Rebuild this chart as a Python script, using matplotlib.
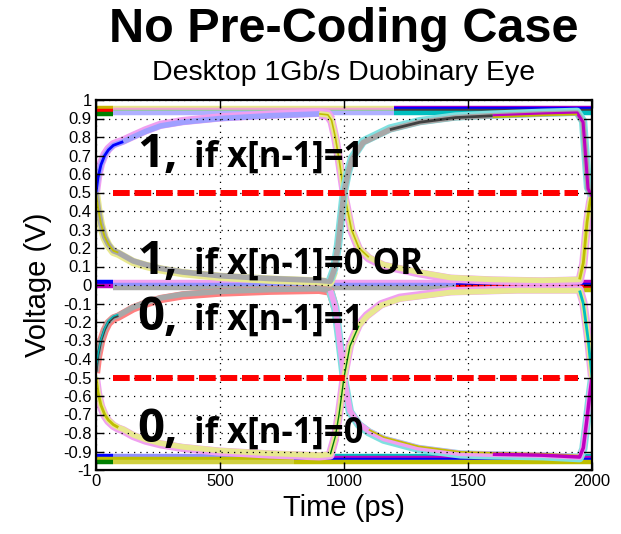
import numpy as np
import matplotlib
matplotlib.use("Agg")
import matplotlib.pyplot as plt

# ---------------- data ----------------
# Upper eye: starts high-going, holds near +0.93, falls at the 1000 ps crossing
t_up_fall = [0, 8, 20, 35, 50, 70, 90, 110, 150, 200, 260, 350, 500, 700, 900, 935, 950,
             965, 980, 1000, 1015, 1030, 1060, 1100, 1160, 1300, 1430, 1600, 1800, 1950,
             1965, 1980, 1992, 2000]
v_up_fall = [0.50, 0.58, 0.65, 0.70, 0.73, 0.755, 0.765, 0.775, 0.80, 0.83, 0.86, 0.88,
             0.90, 0.915, 0.925, 0.92, 0.89, 0.80, 0.68, 0.50, 0.40, 0.30, 0.20, 0.15,
             0.11, 0.07, 0.04, 0.03, 0.025, 0.03, 0.12, 0.34, 0.45, 0.50]

# Upper eye: starts low-going, sits near 0, rises at the 1000 ps crossing
t_up_rise = [0, 8, 20, 35, 50, 70, 90, 110, 150, 200, 260, 350, 500, 700, 900, 944, 960,
             976, 990, 1000, 1015, 1032, 1077, 1185, 1306, 1450, 1600, 1800, 1940, 1964,
             1984, 2000]
v_up_rise = [0.50, 0.42, 0.33, 0.26, 0.22, 0.185, 0.175, 0.16, 0.13, 0.11, 0.09, 0.07,
             0.05, 0.035, 0.025, 0.02, 0.08, 0.21, 0.38, 0.50, 0.60, 0.68, 0.77, 0.84,
             0.88, 0.905, 0.915, 0.925, 0.93, 0.88, 0.52, 0.48]

# Lower eye: rises from -0.5 towards 0, falls at the 1000 ps crossing
t_lo_rise = [0, 8, 20, 35, 50, 70, 90, 110, 150, 200, 260, 350, 500, 700, 900, 945, 965,
             980, 1000, 1024, 1060, 1100, 1160, 1300, 1470, 1600, 1800, 1950, 1965, 1980,
             1992, 2000]
v_lo_rise = [-0.47, -0.38, -0.30, -0.24, -0.20, -0.175, -0.165, -0.15, -0.12, -0.095,
             -0.07, -0.05, -0.035, -0.025, -0.02, -0.03, -0.12, -0.28, -0.50, -0.68,
             -0.75, -0.79, -0.83, -0.88, -0.91, -0.915, -0.92, -0.93, -0.88, -0.72,
             -0.58, -0.50]

# Lower eye: falls from -0.5 towards -0.93, rises at the 1000 ps crossing
t_lo_fall = [0, 8, 20, 35, 50, 70, 90, 110, 150, 200, 260, 350, 500, 700, 900, 945, 965,
             980, 1000, 1024, 1060, 1092, 1150, 1225, 1430, 1700, 1950, 1965, 1985, 2000]
v_lo_fall = [-0.50, -0.58, -0.65, -0.70, -0.73, -0.755, -0.77, -0.78, -0.81, -0.835,
             -0.855, -0.875, -0.895, -0.91, -0.92, -0.915, -0.82, -0.70, -0.50, -0.33,
             -0.22, -0.17, -0.11, -0.075, -0.04, -0.03, -0.03, -0.10, -0.30, -0.50]

# Steady (no-transition) traces: start time, end time, level, colour
flat_t0 = [0, 0, 0, 70, 70, 70, 70, 1200, 1200, 1200, 1200,
           0, 0, 70, 70, 70, 1450, 1450, 1450, 1450,
           0, 0, 0, 70, 70, 70, 800, 800, 800, 800]
flat_t1 = [70, 70, 70, 1200, 1200, 1200, 1200, 2000, 2000, 2000, 2000,
           70, 70, 1450, 1450, 1450, 2000, 2000, 2000, 2000,
           70, 70, 70, 800, 800, 800, 2000, 2000, 2000, 2000]
flat_v = [0.955, 0.94, 0.925, 0.958, 0.948, 0.937, 0.928, 0.958, 0.95, 0.94, 0.932,
          0.015, -0.005, 0.015, 0.0, -0.015, 0.015, 0.0, -0.012, -0.025,
          -0.925, -0.94, -0.955, -0.925, -0.94, -0.955, -0.925, -0.935, -0.945, -0.955]
flat_c = ["#c8b400", "#ff0000", "#008000", "#e6e68c", "#f0a0d0", "#90d090", "#b0b0ff",
          "#bf00bf", "#0000ff", "#404040", "#00bfbf",
          "#0000ff", "#bf00bf", "#f0a0f0", "#9090ff", "#a8a8a8",
          "#bf00bf", "#0000ff", "#ff0000", "#bfbf00",
          "#0000ff", "#bfbf00", "#008000", "#9090ff", "#bfbf00", "#d0d040",
          "#00bfbf", "#bf00bf", "#0000ff", "#bfbf00"]

thresholds = [0.5, -0.5]
thr_t = [70, 1945]

y_ticks = [1, 0.9, 0.8, 0.7, 0.6, 0.5, 0.4, 0.3, 0.2, 0.1, 0, -0.1, -0.2, -0.3, -0.4,
           -0.5, -0.6, -0.7, -0.8, -0.9, -1]
y_tick_labels = ["1", "0.9", "0.8", "0.7", "0.6", "0.5", "0.4", "0.3", "0.2", "0.1", "0",
                 "-0.1", "-0.2", "-0.3", "-0.4", "-0.5", "-0.6", "-0.7", "-0.8", "-0.9", "-1"]
x_ticks = [0, 500, 1000, 1500, 2000]

notes_big = ["1,", "1,", "0,", "0,"]
notes_small = ["if x[n-1]=1", "if x[n-1]=0 OR", "if x[n-1]=1", "if x[n-1]=0"]
notes_y = [0.64, 0.06, -0.243, -0.85]

# ---------------- drawing ----------------
fig = plt.figure(figsize=(6.21, 5.34), dpi=100)
ax = fig.add_axes([96 / 621, 1 - 470 / 534, 496 / 621, 370 / 534])

BLUE, GREEN, RED = "#0000ff", "#008000", "#ff0000"
CYAN, MAG, OLIVE, DGRAY = "#00bfbf", "#bf00bf", "#bfbf00", "#404040"
LPINK, LYEL, LGRAY, LAV, LCYAN = "#f0a0f0", "#e8e890", "#a8a8a8", "#a0a0ff", "#80e0e0"


def draw(t, v, t_from, t_to, color, lw, dv=0.0, z=2):
    t = np.asarray(t, float)
    v = np.asarray(v, float)
    m = (t >= t_from) & (t <= t_to)
    ax.plot(t[m], v[m] + dv, color=color, lw=lw, solid_capstyle="butt", zorder=z)


# flat traces
for a, b, lv, c in zip(flat_t0, flat_t1, flat_v, flat_c):
    ax.plot([a, b], [lv, lv], color=c, lw=3.2, solid_capstyle="butt", zorder=2)

# upper eye, falling trace
draw(t_up_fall, v_up_fall, 0, 950, LPINK, 6, 0.006)
draw(t_up_fall, v_up_fall, 0, 950, LAV, 4)
draw(t_up_fall, v_up_fall, 0, 110, BLUE, 2)
draw(t_up_fall, v_up_fall, 900, 2000, LPINK, 6, -0.006)
draw(t_up_fall, v_up_fall, 900, 2000, LYEL, 4)
draw(t_up_fall, v_up_fall, 900, 1100, OLIVE, 1.2)
draw(t_up_fall, v_up_fall, 1940, 2000, OLIVE, 2)

# upper eye, rising trace
draw(t_up_rise, v_up_rise, 0, 960, LYEL, 6, -0.006)
draw(t_up_rise, v_up_rise, 0, 960, LGRAY, 4)
draw(t_up_rise, v_up_rise, 0, 90, OLIVE, 1.3)
draw(t_up_rise, v_up_rise, 940, 2000, LCYAN, 6, 0.006)
draw(t_up_rise, v_up_rise, 940, 2000, LGRAY, 4)
draw(t_up_rise, v_up_rise, 1100, 1600, DGRAY, 2)
draw(t_up_rise, v_up_rise, 1600, 2000, MAG, 2.2)
draw(t_up_rise, v_up_rise, 1600, 1960, OLIVE, 1.2, -0.008)

# lower eye, rising trace
draw(t_lo_rise, v_lo_rise, 0, 965, "#ff8080", 6, -0.006)
draw(t_lo_rise, v_lo_rise, 0, 965, LGRAY, 4)
draw(t_lo_rise, v_lo_rise, 0, 90, DGRAY, 2)
draw(t_lo_rise, v_lo_rise, 0, 90, CYAN, 1, 0.006)
draw(t_lo_rise, v_lo_rise, 945, 2000, LCYAN, 6, -0.006)
draw(t_lo_rise, v_lo_rise, 945, 2000, LPINK, 4)
draw(t_lo_rise, v_lo_rise, 1100, 1950, OLIVE, 1.2, 0.008)
draw(t_lo_rise, v_lo_rise, 1500, 2000, MAG, 2.5)

# lower eye, falling trace
draw(t_lo_fall, v_lo_fall, 0, 965, LPINK, 6, -0.006)
draw(t_lo_fall, v_lo_fall, 0, 965, LYEL, 4)
draw(t_lo_fall, v_lo_fall, 0, 100, OLIVE, 2)
draw(t_lo_fall, v_lo_fall, 945, 2000, LPINK, 6, 0.006)
draw(t_lo_fall, v_lo_fall, 945, 2000, LYEL, 4)
draw(t_lo_fall, v_lo_fall, 945, 1060, GREEN, 1)
draw(t_lo_fall, v_lo_fall, 1940, 2000, CYAN, 2)

# decision thresholds
for th in thresholds:
    ax.plot(thr_t, [th, th], color=RED, lw=4.3, ls=(0, (2.8, 0.8)),
            solid_capstyle="butt", dash_capstyle="butt", zorder=3)

ax.set_xlim(0, 2000)
ax.set_ylim(-1, 1)
ax.set_xticks(x_ticks)
ax.set_yticks(y_ticks)
ax.set_yticklabels(y_tick_labels)
ax.grid(True, color="black", ls=(0, (1, 4)), lw=0.9)
ax.set_axisbelow(False)
ax.tick_params(direction="in", top=True, right=True, length=6, width=1,
               labelsize=12, pad=3)
for lab in ax.get_xticklabels() + ax.get_yticklabels():
    lab.set_fontfamily("Liberation Sans")
for s in ax.spines.values():
    s.set_linewidth(1.6)

ax.set_xlabel("Time (ps)", fontsize=21, fontfamily="Liberation Sans")
ax.set_ylabel("Voltage (V)", fontsize=21, fontfamily="Liberation Sans")
ax.xaxis.set_label_coords(0.5, -0.065)
ax.yaxis.set_label_coords(-0.089, 0.5)

for big, small, yy in zip(notes_big, notes_small, notes_y):
    ax.text(165, yy, big, fontsize=34, fontweight="bold", fontfamily="Open Sans",
            va="baseline", ha="left", zorder=5)
    ax.text(395, yy, small, fontsize=25, fontweight="bold", fontfamily="Open Sans",
            va="baseline", ha="left", zorder=5)

fig.text(344 / 621, 1 - 30 / 534, "No Pre-Coding Case", fontsize=35, fontweight="bold",
         fontfamily="Liberation Sans", ha="center", va="center")
fig.text(344 / 621, 1 - 73 / 534, "Desktop 1Gb/s Duobinary Eye", fontsize=20.5,
         fontfamily="Liberation Sans", ha="center", va="center")

fig.savefig("out.png", dpi=100)
